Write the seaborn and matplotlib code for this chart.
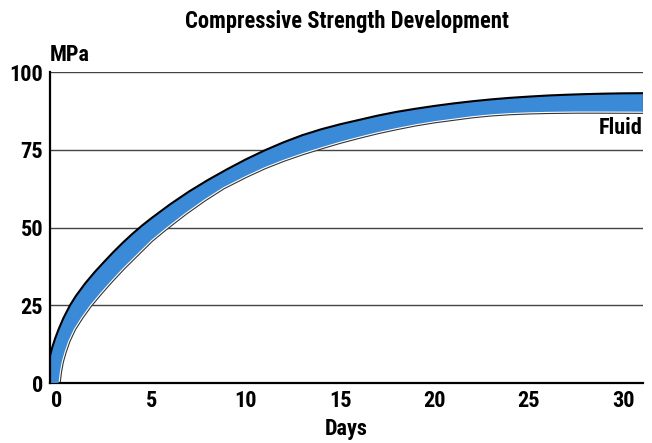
import matplotlib
matplotlib.use("Agg")
import matplotlib.pyplot as plt
import seaborn as sns
import pandas as pd

# Upper edge of the "Fluid" band (days, MPa)
upper_days = [-0.37, -0.25, -0.1, 0.1, 0.35, 0.69, 1.0, 1.5, 2.0, 2.5, 3.0, 3.5, 4.0,
              4.5, 5.0, 6.0, 7.0, 8.0, 9.0, 10.0, 11.0, 12.0, 13.0, 14.0, 15.0, 16.0,
              17.0, 18.0, 19.0, 20.0, 21.0, 22.0, 23.0, 24.0, 25.0, 26.0, 27.0, 28.0,
              29.0, 30.0, 31.05]
upper_mpa = [8.8, 11.5, 14.3, 17.5, 21.0, 25.0, 28.0, 32.1, 35.7, 39.0, 42.2, 45.2, 48.0,
             50.6, 53.0, 57.5, 61.6, 65.3, 68.7, 71.9, 74.8, 77.4, 79.7, 81.6, 83.2, 84.6,
             86.0, 87.2, 88.2, 89.1, 89.9, 90.6, 91.2, 91.7, 92.1, 92.45, 92.7, 92.9,
             93.05, 93.15, 93.2]

# Lower edge of the band
lower_days = [0.08, 0.15, 0.25, 0.4, 0.6, 0.9, 1.3, 1.75, 2.3, 2.9, 3.5, 4.2, 5.0, 5.8,
              6.8, 7.8, 8.8, 10.0, 11.0, 12.0, 13.0, 14.0, 15.0, 16.0, 17.0, 18.0, 19.0,
              20.0, 21.0, 22.0, 23.0, 24.0, 25.0, 26.0, 27.5, 29.0, 31.05]
lower_mpa = [0, 3.5, 6.8, 10.0, 13.5, 17.4, 21.2, 25.0, 29.0, 33.1, 37.0, 41.2, 46.0,
             50.0, 54.7, 59.0, 62.9, 66.6, 69.4, 71.8, 73.9, 75.8, 77.6, 79.2, 80.7, 82.0,
             83.2, 84.2, 85.0, 85.8, 86.4, 86.8, 87.05, 87.2, 87.3, 87.3, 87.25]

x_ticks = [0, 5, 10, 15, 20, 25, 30]
y_ticks = [0, 25, 50, 75, 100]

upper = pd.DataFrame({"Days": upper_days, "MPa": upper_mpa})
lower = pd.DataFrame({"Days": lower_days, "MPa": lower_mpa})

sns.set_style("white")
plt.rcParams["font.family"] = ["Roboto Condensed", "IBM Plex Sans Condensed", "DejaVu Sans"]
plt.rcParams["text.color"] = "black"
plt.rcParams["xtick.color"] = "black"
plt.rcParams["ytick.color"] = "black"
plt.rcParams["axes.labelcolor"] = "black"

fig = plt.figure(figsize=(6.52, 4.43), dpi=100)
ax = fig.add_axes([0.0767, 0.1354, 0.9095, 0.702])

# band: polygon from the two edges, left side closed along the y axis
band_x = [upper_days[0]] + upper_days + lower_days[::-1] + [upper_days[0]]
band_y = [0] + upper_mpa + lower_mpa[::-1] + [0]
ax.fill(band_x, band_y, color="#3b8ad7", zorder=3, lw=0)

# lower edge: dark line with a thin white highlight
sns.lineplot(data=lower, x="Days", y="MPa", ax=ax, color="#333333", lw=3.2,
             sort=False, zorder=2)
sns.lineplot(data=lower, x="Days", y="MPa", ax=ax, color="white", lw=1.6,
             sort=False, zorder=2.5)
# upper edge: black outline
sns.lineplot(data=upper, x="Days", y="MPa", ax=ax, color="black", lw=1.5,
             sort=False, zorder=4)
ax.plot([upper_days[-1], upper_days[-1]], [lower_mpa[-1], upper_mpa[-1]],
        color="#555555", lw=1, zorder=4)

ax.set_xlim(-0.37, 31.05)
ax.set_ylim(0, 100)
ax.set_xticks(x_ticks)
ax.set_yticks(y_ticks)
ax.tick_params(axis="both", length=0, labelsize=16, pad=5)
for lab in ax.get_xticklabels() + ax.get_yticklabels():
    lab.set_fontweight("bold")

for y in y_ticks[1:]:
    ax.axhline(y, color="#444444", lw=1, zorder=1)

sns.despine(ax=ax, top=True, right=True)
ax.spines["left"].set_color("black")
ax.spines["left"].set_linewidth(1.6)
ax.spines["bottom"].set_color("black")
ax.spines["bottom"].set_linewidth(1.6)
ax.spines["left"].set_zorder(5)

ax.set_xlabel("Days", fontsize=16, fontweight="bold", labelpad=4)
ax.set_ylabel("")
ax.text(-0.4, 102, "MPa", fontsize=16, fontweight="bold", ha="left", va="bottom")
ax.text(31.05, 82, "Fluid", fontsize=16, fontweight="bold", ha="right", va="center")

fig.text(0.532, 0.952, "Compressive Strength Development", fontsize=16.3,
         fontweight="bold", ha="center", va="center")

fig.savefig("out.png", dpi=100)
